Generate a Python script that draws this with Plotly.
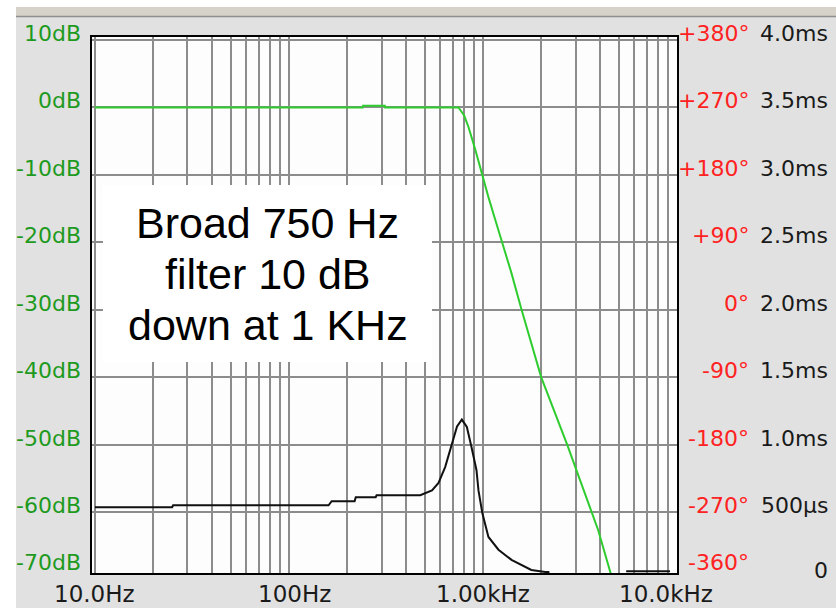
import numpy as np
import plotly.graph_objects as go

# ---------------- data ----------------
freq_green = [10, 240, 241, 312, 313, 748, 800, 842, 914, 981, 1067, 1158, 1400,
              1581, 1995, 2716, 3630, 3926, 4700]
db_green = [0, 0, 0.25, 0.25, 0, 0, -1.2, -2.9, -6.3, -9.7, -13.3, -16.7, -24.5,
            -30, -40, -50, -60, -62.7, -70.5]

freq_black = [10, 25, 25.3, 160, 166, 218, 221, 280, 283, 475, 546, 590, 639, 692,
              735, 778, 826, 873, 926, 948, 993, 1067, 1202, 1403, 1775, 2094, 2173,
              2300, None, 5470, 9200]
db_black = [-59.3, -59.3, -59.0, -59.0, -58.4, -58.4, -57.8, -57.8, -57.5, -57.5,
            -56.8, -55.7, -53.3, -49.8, -47.3, -46.3, -47.4, -50.4, -53.8, -56.8,
            -60.2, -63.7, -65.6, -67.1, -68.6, -68.9, -68.9, -72, None, -68.8, -68.8]

db_ticks = [10, 0, -10, -20, -30, -40, -50, -60, -70]
db_labels = ["10dB", "0dB", "-10dB", "-20dB", "-30dB", "-40dB", "-50dB", "-60dB", "-70dB"]
phase_labels = ["+380°", "+270°", "+180°", "+90°", "0°", "-90°", "-180°", "-270°", "-360°"]
time_labels = ["4.0ms", "3.5ms", "3.0ms", "2.5ms", "2.0ms", "1.5ms", "1.0ms", "500µs", "0"]
freq_ticks = [10, 100, 1000, 10000]
freq_labels = ["10.0Hz", "100Hz", "1.00kHz", "10.0kHz"]
grid_freqs = [d * 10 ** k for k in range(1, 4) for d in range(1, 10)] + [10000]

note_lines = ["Broad 750 Hz", "filter 10 dB", "down at 1 KHz"]

# ---------------- geometry ----------------
W, H = 836, 608
L, R, T, B = 92, 677, 37, 573
PW, PH = R - L, B - T
YMIN, YMAX = -69.05, 10.45
XMIN, XMAX = 0.985, 4.0


def px2x(px):
    return (px - L) / PW


def py2y(py):
    return (B - py) / PH


def val2py(v):
    return T + (YMAX - v) / (YMAX - YMIN) * PH


def f2px(f):
    return L + (np.log10(f) - XMIN) / (XMAX - XMIN) * PW


fig = go.Figure()
fig.add_trace(go.Scatter(x=freq_black, y=db_black, mode="lines",
                         line=dict(color="#111111", width=2), connectgaps=False,
                         hoverinfo="skip", showlegend=False))
fig.add_trace(go.Scatter(x=freq_green, y=db_green, mode="lines",
                         line=dict(color="#2ecc2e", width=2),
                         hoverinfo="skip", showlegend=False))

GREEN = "#1e9a1e"
RED = "#ff2222"
LAB = dict(family="DejaVu Sans", size=22)

ann = []
for v, dl, pl, tl in zip(db_ticks, db_labels, phase_labels, time_labels):
    py = min(val2py(v) - 6.5, 562)
    ann.append(dict(x=px2x(83), y=py2y(py), xref="paper", yref="paper", text=dl,
                    showarrow=False, xanchor="right", yanchor="middle",
                    font=dict(LAB, color=GREEN)))
    ann.append(dict(x=px2x(751), y=py2y(py), xref="paper", yref="paper", text=pl,
                    showarrow=False, xanchor="right", yanchor="middle",
                    font=dict(LAB, color=RED)))
    tpy = py if tl != "0" else 570
    ann.append(dict(x=px2x(830), y=py2y(tpy), xref="paper", yref="paper", text=tl,
                    showarrow=False, xanchor="right", yanchor="middle",
                    font=dict(LAB, color="#1a1a1a")))

for f, lab in zip(freq_ticks, freq_labels):
    cx = min(max(f2px(f) + (6 if f == 100 else 0), 91.5), 666)
    ann.append(dict(x=px2x(cx), y=py2y(594), xref="paper", yref="paper", text=lab,
                    showarrow=False, xanchor="center", yanchor="middle",
                    font=dict(family="DejaVu Sans", size=23, color="#1a1a1a")))

for i, line in enumerate(note_lines):
    ann.append(dict(x=px2x(267.5), y=py2y(223 + 51 * i), xref="paper", yref="paper",
                    text=line, showarrow=False, xanchor="center", yanchor="middle",
                    font=dict(family="Liberation Sans", size=43, color="black")))

shapes = [
    # white strip on the left and top, beige band at top
    dict(type="rect", xref="paper", yref="paper", x0=px2x(0), x1=px2x(16),
         y0=py2y(608), y1=py2y(0), fillcolor="white", line_width=0, layer="below"),
    dict(type="rect", xref="paper", yref="paper", x0=px2x(0), x1=px2x(836),
         y0=py2y(7), y1=py2y(0), fillcolor="white", line_width=0, layer="below"),
    dict(type="rect", xref="paper", yref="paper", x0=px2x(16), x1=px2x(836),
         y0=py2y(16), y1=py2y(7), fillcolor="#d6d2ca", line_width=0, layer="below"),
    dict(type="line", xref="paper", yref="paper", x0=px2x(16), x1=px2x(836),
         y0=py2y(16.5), y1=py2y(16.5), line=dict(color="#8e8e8e", width=1.5),
         layer="below"),
    # white note box
    dict(type="rect", xref="paper", yref="paper", x0=px2x(103), x1=px2x(432),
         y0=py2y(362), y1=py2y(185), fillcolor="white", line_width=0, layer="above"),
    # red circle around the 1 kHz / -10 dB point
    dict(type="circle", xref="x", yref="y", xsizemode="pixel", ysizemode="pixel",
         xanchor=np.log10(1000), yanchor=-10, x0=-22.5, x1=22.5, y0=-22.5, y1=22.5,
         line=dict(color="#c4451c", width=2.5), layer="above"),
]

fig.update_layout(
    width=W, height=H, autosize=False,
    margin=dict(l=L, r=W - R, t=T, b=H - B, pad=0),
    paper_bgcolor="#e1e1e1", plot_bgcolor="#fdfdfd",
    showlegend=False,
    annotations=ann, shapes=shapes,
    xaxis=dict(type="log", range=[XMIN, XMAX], tickvals=grid_freqs,
               showticklabels=False, ticks="", showgrid=True, gridcolor="#8c8c8c",
               gridwidth=2, showline=True, linecolor="black", linewidth=2,
               mirror=True, zeroline=False, fixedrange=True),
    yaxis=dict(range=[YMIN, YMAX], tickvals=db_ticks[:-1], showticklabels=False,
               ticks="", showgrid=True, gridcolor="#8c8c8c", gridwidth=2,
               showline=True, linecolor="black", linewidth=2, mirror=True,
               zeroline=False, fixedrange=True),
)

fig.write_html("out.html")
